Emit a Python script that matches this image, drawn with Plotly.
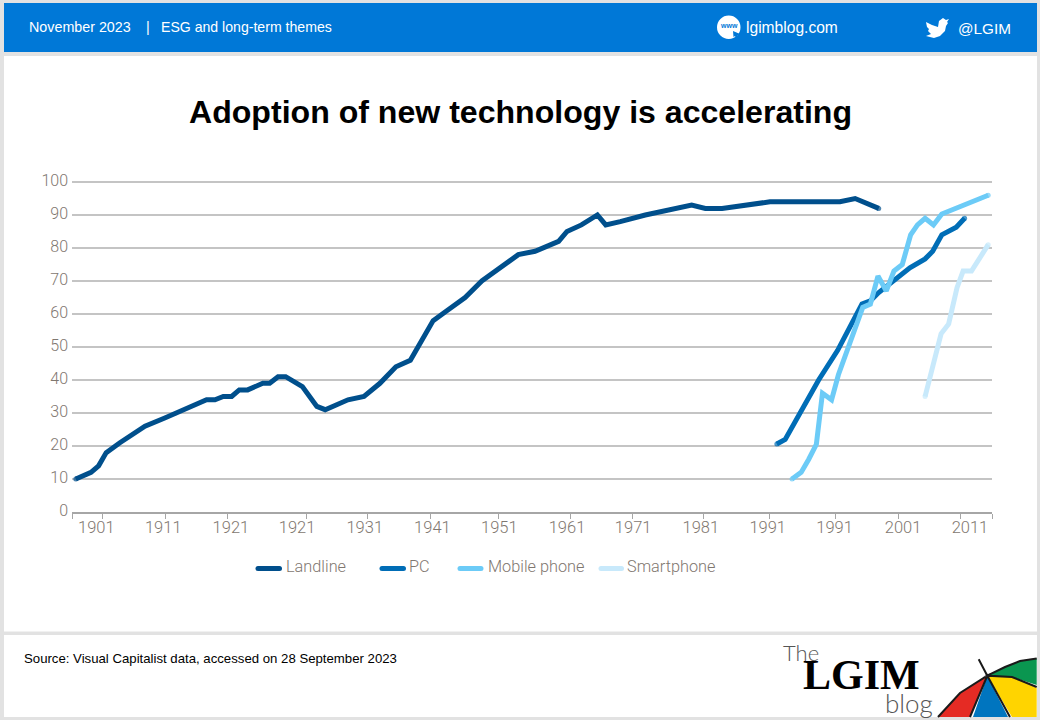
import plotly.graph_objects as go

# x is the position along the chart's (irregular) category axis, 0 = first point
landline_x = [0, 2, 3, 4, 5.8, 7.1, 9.1, 11.7, 17.2, 18.3, 19.4, 20.5, 21.5, 22.6, 24.6, 25.5, 26.6, 27.6,
              29.8, 31.7, 32.8, 35.8, 37.9, 40, 42.1, 44, 45, 47, 48.8, 51.2, 53.4, 58.2, 60.4, 63.5, 64.6,
              66.5, 68.6, 69.7, 71.6, 74.9, 81, 82.8, 85, 88.7, 91.3, 100.5, 102.5, 105.6]
landline_y = [10, 12, 14, 18, 21, 23, 26, 28.5, 34, 34, 35, 35, 37, 37, 39, 39, 41, 41,
              38, 32, 31, 34, 35, 39, 44, 46, 50, 58, 61, 65, 70, 78, 79, 82, 85,
              87, 90, 87, 88, 90, 93, 92, 92, 93, 94, 94, 95, 92]

pc_x = [92.2, 93.3, 97.7, 100.2, 103.4, 104.5, 105.6, 108, 109.7, 111.7, 112.7, 113.9, 115.8, 116.9]
pc_y = [20.6, 22, 40, 49, 63, 64, 66.5, 71, 74, 76.7, 79, 84, 86.3, 89]

mobile_x = [94.2, 95.4, 96.4, 97.4, 98.2, 99.4, 100.3, 101.6, 103.5, 104.5, 105.5, 106.6, 107.6, 108.7,
            109.8, 110.7, 111.7, 112.8, 113.9, 120]
mobile_y = [10, 12, 16, 20.5, 36, 34, 41.6, 50, 62, 63, 71.5, 67, 73, 75, 84, 87, 89, 87, 90.3, 96]

smartphone_x = [111.7, 113.2, 113.8, 114.8, 115.9, 116.7, 117.8, 120]
smartphone_y = [35, 49.7, 54, 57, 68, 73, 73, 81]

tick_labels = ["1901", "1911", "1921", "1921", "1931", "1941", "1951", "1961", "1971", "1981", "1991", "1991", "2001", "2011"]
label_pos = [2.7, 11.5, 20.4, 29.1, 38, 46.9, 55.7, 64.6, 73.3, 82.2, 91, 99.8, 108.8, 117.6]
tick_pos = [-0.5, 3.5, 11.8, 19.9, 30.3, 38.4, 46.6, 55.6, 65, 73.2, 82.5, 91.2, 99.9, 108.2, 116.4, 120.5]
y_ticks = [0, 10, 20, 30, 40, 50, 60, 70, 80, 90, 100]

W, H = 1040, 720
BLUE = "#0078D7"
GREY_TEXT = "#7F7770"
LINE_W = 5
colors = {"Landline": "#004F8C", "PC": "#006DB6", "Mobile phone": "#6CCBF7", "Smartphone": "#C8E9FB"}


def px(x):
    return x / W


def py(y):
    return 1 - y / H


def box(x0, y0, x1, y1, fill):
    return dict(type="rect", xref="paper", yref="paper", x0=px(x0), x1=px(x1), y0=py(y0), y1=py(y1),
                fillcolor=fill, line_width=0, layer="below")


def path(points, fill="rgba(0,0,0,0)", line="rgba(0,0,0,0)", width=0):
    d = "M " + " L ".join(f"{px(a):.5f},{py(b):.5f}" for a, b in points) + " Z"
    return dict(type="path", xref="paper", yref="paper", path=d, fillcolor=fill,
                line=dict(color=line, width=width))


def dot(x, y, r, fill):
    return dict(type="circle", xref="paper", yref="paper", x0=px(x - r), x1=px(x + r), y0=py(y + r), y1=py(y - r),
                fillcolor=fill, line_width=0)


def label(x, y, text, size=14, color="white", family="Liberation Sans", anchor="left", weight=None):
    font = dict(size=size, color=color, family=family)
    if weight:
        font["weight"] = weight
    return dict(xref="paper", yref="paper", x=px(x), y=py(y), text=text, showarrow=False, xanchor=anchor,
                yanchor="middle", borderpad=0, borderwidth=0, font=font)


fig = go.Figure()
for name, xs, ys in [("Landline", landline_x, landline_y), ("PC", pc_x, pc_y),
                     ("Mobile phone", mobile_x, mobile_y), ("Smartphone", smartphone_x, smartphone_y)]:
    # markers only on the two ends, to get round line caps
    ends = [LINE_W] + [0] * (len(xs) - 2) + [LINE_W]
    fig.add_trace(go.Scatter(x=xs, y=ys, mode="lines+markers", name=name,
                             line=dict(color=colors[name], width=LINE_W),
                             marker=dict(size=ends, color=colors[name], line_width=0)))

shapes = [
    box(0, 0, W, H, "#E2E2E2"),
    box(4, 3, 1037, 52, BLUE),
    box(4, 56, 1037, 631.5, "white"),
    box(4, 635, 1037, 717, "white"),
]

# umbrella logo, bottom right
ax, ay = 987.3, 675.7
shapes += [
    path([(938, 717), (960, 693), (ax, ay), (970, 717)], "#E52B24"),
    path([(973, 717), (ax, ay), (1008, 717)], "#0075BF"),
    path([(1012, 717), (ax, ay), (1012, 677), (1025, 682), (1036.7, 688), (1036.7, 717)], "#FFD400"),
    path([(ax, ay), (1005, 667), (1020, 661), (1036.7, 658.5), (1036.7, 685), (1012, 677)], "#0A9650"),
    path([(978.7, 659.3), (ax, ay)], line="#1A1A1A", width=2),
    path([(938, 717), (960, 693), (ax, ay), (970, 717), (ax, ay), (1010, 717), (ax, ay), (1012, 677), (1036.7, 687),
          (1012, 677), (ax, ay), (1005, 667), (1020, 661), (1036.7, 658.5), (1020, 661), (1005, 667), (ax, ay),
          (960, 693)], line="#1A1A1A", width=2),
]

# legend keys
for x0, x1, name in [(258, 279.5, "Landline"), (382, 403.5, "PC"), (460, 481, "Mobile phone"), (601, 621.5, "Smartphone")]:
    shapes.append(dict(type="line", xref="paper", yref="paper", x0=px(x0), x1=px(x1), y0=py(568.5), y1=py(568.5),
                       line=dict(color=colors[name], width=LINE_W)))
    shapes.append(dot(x0, 568.5, LINE_W / 2, colors[name]))
    shapes.append(dot(x1, 568.5, LINE_W / 2, colors[name]))

# www badge and twitter bird in the header
shapes.append(dict(type="circle", xref="paper", yref="paper", x0=px(717), x1=px(740.5), y0=py(15.5), y1=py(39),
                   fillcolor="white", line_width=0))
shapes.append(path([(733, 31), (740, 34), (737, 35.5), (738, 38), (736, 38), (735, 36), (733.5, 37)], BLUE))
shapes.append(path([(926, 22), (932, 25), (938, 27), (939, 21), (943, 18), (946, 20), (949, 19), (947, 22),
                    (948, 23), (946, 26), (945, 31), (940, 36), (934, 38), (926, 36), (931, 34), (928, 31),
                    (929, 29), (927, 27)], "white"))

annotations = [
    label(29, 27, "November 2023", size=14.3),
    label(146, 27, "|", size=14.3),
    label(161, 27, "ESG and long-term themes", size=14.1),
    label(745.5, 28, "lgimblog.com", size=15.6),
    label(958, 29, "@LGIM", size=15.3),
    label(728.5, 26, "<b>www</b>", size=7, color=BLUE, anchor="center"),
    label(520, 112, "<b>Adoption of new technology is accelerating</b>", size=32.1, color="black", anchor="center"),
    label(24, 658, "Source: Visual Capitalist data, accessed on 28 September 2023", size=13.2, color="black"),
    label(783, 652, "The", size=22, color="#555555", family="Lato", weight=300),
    label(803, 675, "<b>LGIM</b>", size=42, color="black", family="Liberation Serif"),
    label(885, 703, "blog", size=26, color="#555555", family="Lato", weight=300),
]
for x, name in [(285.5, "Landline"), (409, "PC"), (487.5, "Mobile phone"), (627, "Smartphone")]:
    annotations.append(label(x, 566.5, name, size=16.3, color=GREY_TEXT, family="Roboto", weight=300))

# a touch over 100 so the top gridline is kept
y_top = 100.5
fig.update_layout(
    width=W, height=H,
    margin=dict(l=0, r=0, t=0, b=0),
    paper_bgcolor="#E2E2E2",
    plot_bgcolor="rgba(0,0,0,0)",
    showlegend=False,
    shapes=shapes,
    annotations=annotations,
    xaxis=dict(domain=[px(72), px(992)], range=[-0.5, 120.5], tickmode="array", tickvals=label_pos,
               ticktext=tick_labels, ticks="", showgrid=False, zeroline=False, showline=False, automargin=False,
               tickfont=dict(size=16.5, color=GREY_TEXT, family="Roboto", weight=300), ticklabelstandoff=3),
    xaxis2=dict(overlaying="x", domain=[px(72), px(992)], range=[-0.5, 120.5], side="bottom", anchor="y",
                tickmode="array", tickvals=tick_pos, ticktext=[""] * len(tick_pos), ticks="outside", ticklen=5,
                tickcolor="#A6A6A6", showgrid=False, zeroline=False, showline=True, linecolor="#A6A6A6",
                linewidth=1.5, automargin=False),
    yaxis=dict(domain=[py(512), py(512 - 3.3 * y_top)], range=[0, y_top], tickmode="array", tickvals=y_ticks,
               gridcolor="#C4C4C4", gridwidth=1.5, zeroline=False, showline=False, ticks="", automargin=False,
               tickfont=dict(size=16, color=GREY_TEXT, family="Roboto", weight=300), ticklabelstandoff=3,
               ticklabelshift=-2),
)
# invisible trace so the tick-mark axis is drawn
fig.add_trace(go.Scatter(x=[None], y=[None], xaxis="x2", hoverinfo="skip", showlegend=False))

fig.write_html("out.html", config={"displayModeBar": False}, post_script="document.body.style.margin='0';")
